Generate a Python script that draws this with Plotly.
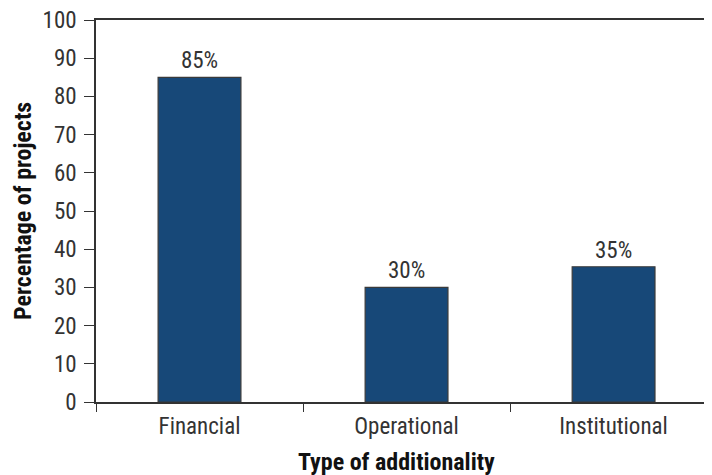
import plotly.graph_objects as go

# datos
categories = ["Financial", "Operational", "Institutional"]
values = [85, 30, 35.4]
labels = ["85%", "30%", "35%"]
y_ticks = [0, 10, 20, 30, 40, 50, 60, 70, 80, 90, 100]

font_fam = "Roboto Condensed, Liberation Sans Narrow, Arial Narrow, Roboto, sans-serif"
dark = "#333333"

fig = go.Figure()
fig.add_trace(go.Bar(
    x=categories, y=values, text=labels,
    textposition="outside", cliponaxis=False,
    textfont=dict(size=23, color=dark, family=font_fam),
    marker=dict(color="#174878", line=dict(color="#3a3a3a", width=1.2)),
    width=0.4,
))

# la pagina tiene 8px de margen en el body, se compensa aqui
fig.update_layout(
    width=712, height=475,
    margin=dict(l=88, r=0, t=12, b=81, autoexpand=False),
    paper_bgcolor="white", plot_bgcolor="white",
    font=dict(family=font_fam, color=dark, size=23),
    showlegend=False,
)

fig.update_xaxes(
    type="category", range=[-0.5, 2.514], automargin=False,
    showline=True, linecolor=dark, linewidth=1.5, mirror=True,
    ticks="outside", tickson="boundaries", ticklen=8, tickcolor=dark,
    ticklabelstandoff=3,
    tickfont=dict(size=23, color=dark),
    showgrid=False,
)
fig.update_yaxes(
    range=[0, 100], tickvals=y_ticks, automargin=False,
    showline=True, linecolor=dark, linewidth=1.5,
    ticks="outside", ticklen=10, tickcolor=dark, ticklabelstandoff=3,
    ticklabeloverflow="allow",
    tickfont=dict(size=23, color=dark),
    showgrid=False, zeroline=False,
)

# titulos de ejes como anotaciones para ubicarlos como en el original
fig.add_annotation(
    text="<b>Type of additionality</b>", xref="paper", yref="paper",
    x=0.481, y=-0.114, xanchor="center", yanchor="top", showarrow=False,
    font=dict(size=24, color="#111111", family=font_fam),
)
fig.add_annotation(
    text="<b>Percentage of projects</b>", xref="paper", yref="paper",
    x=-0.117, y=0.5, xanchor="center", yanchor="middle", showarrow=False,
    textangle=-90,
    font=dict(size=24, color="#111111", family=font_fam),
)

fig.write_html("out.html")
